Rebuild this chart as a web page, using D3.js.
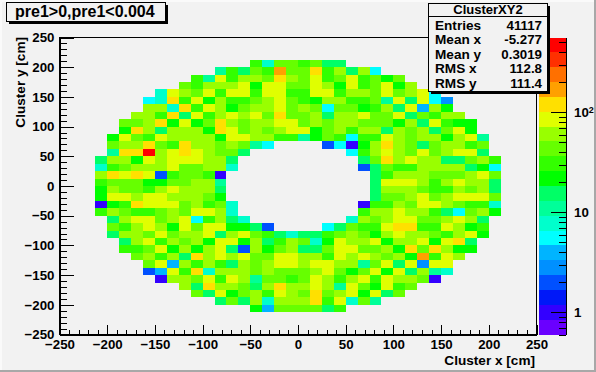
<!DOCTYPE html>
<html>
<head>
<meta charset="utf-8">
<script src="https://cdn.jsdelivr.net/npm/d3@7"></script>
<style>
html, body { margin: 0; padding: 0; background: #f2f2f2; }
svg { display: block; }
text { font-family: "Liberation Sans", Arial, sans-serif; font-weight: bold; fill: #000; }
</style>
</head>
<body>
<div id="chart"></div>
<script>
// Histogram bins: 40 x 40 over -250..250, rows listed from the top down
const binEdges = d3.range(-250, 250, 12.5);
const binSize = 12.5;

// first row drawn and first filled bin of each row
const firstRow = 3;
const rowStart = [16,13,11,10,8,7,7,6,5,5,4,4,4,3,3,3,3,3,3,3,3,4,4,4,5,5,6,7,7,8,10,11,13,16];

const z = 0; // empty bin in the hole
const binCounts = [
  [31,8,43,43,31,43,16,16],
  [11,31,16,43,31,170,43,43,121,31,61,16,61,6],
  [31,11,86,31,61,61,43,121,61,43,86,31,43,86,31,43,22,43],
  [43,31,61,61,61,86,22,86,86,43,43,86,61,22,86,31,43,86,22,61],
  [8,86,61,43,86,31,86,86,31,86,86,31,31,86,86,31,61,61,43,86,43,61,86,6],
  [6,8,121,31,86,22,61,31,31,43,61,86,43,31,22,61,61,31,31,43,11,86,16,86,6,3],
  [61,61,8,121,31,86,61,22,43,61,61,86,43,61,43,6,43,43,22,31,61,16,86,4,61,22],
  [61,61,31,121,16,86,31,61,86,61,86,43,121,43,43,61,16,61,61,86,43,43,86,16,43,31,61,61],
  [43,43,61,121,22,86,22,43,121,61,43,61,61,86,86,43,61,43,61,61,43,43,43,22,61,16,86,31,22,22],
  [22,121,61,16,61,61,61,22,121,86,43,61,43,61,86,86,22,43,61,31,61,61,16,61,43,61,16,43,86,22],
  [22,86,43,31,86,61,61,61,61,22,86,86,61,61,31,31,11,22,43,31,6,31,31,86,61,43,61,61,22,61,86,11],
  [43,61,61,121,43,31,121,61,61,43,61,43,11,6,z,z,z,z,2,6,1,22,61,121,61,43,16,43,61,61,31,43],
  [11,121,121,473,61,86,121,86,61,43,43,16,z,z,z,z,z,z,z,z,6,31,61,86,61,43,86,43,61,86,86,16],
  [16,61,61,22,86,61,86,86,86,61,61,16,z,z,z,z,z,z,z,z,z,z,16,43,121,61,86,61,61,16,16,43,61,31],
  [8,31,43,61,61,61,86,43,43,61,61,8,z,z,z,z,z,z,z,z,z,z,2,16,43,31,31,61,61,61,61,16,22,6],
  [61,121,86,121,86,2,31,43,43,31,1,z,z,z,z,z,z,z,z,z,z,z,z,16,31,61,61,61,43,43,43,61,86,43],
  [31,43,43,43,22,22,43,43,61,61,11,z,z,z,z,z,z,z,z,z,z,z,z,16,86,86,86,61,31,61,86,61,61,16],
  [22,61,43,43,31,61,86,61,61,61,16,z,z,z,z,z,z,z,z,z,z,z,z,16,61,61,61,43,31,31,61,43,61,16],
  [22,86,86,61,86,86,61,61,61,43,22,z,z,z,z,z,z,z,z,z,z,z,z,16,43,43,61,86,43,61,86,86,86,43],
  [1,22,31,121,86,86,86,43,61,31,43,8,z,z,z,z,z,z,z,z,z,z,1,31,31,61,43,86,86,61,43,31,31,8],
  [31,61,43,31,31,43,61,43,86,86,61,8,z,z,z,z,z,z,z,z,z,z,31,61,61,86,61,61,31,16,6,43,61,22],
  [16,61,86,86,43,61,86,6,31,61,16,8,z,z,z,z,z,z,z,z,8,61,43,61,86,86,43,43,61,86,61,16],
  [43,31,61,86,61,22,86,43,86,86,22,22,16,2,z,z,z,z,6,16,43,31,31,86,121,121,31,31,86,61,22,31],
  [16,61,61,43,86,43,61,61,86,16,61,86,43,31,16,8,16,16,31,43,61,43,22,61,86,61,61,43,31,61,86,22],
  [16,61,86,31,61,43,61,22,86,86,22,61,16,31,61,43,8,22,86,61,61,86,22,61,61,86,22,86,121,16],
  [31,31,43,86,22,61,22,61,86,16,2,61,22,43,61,16,16,43,86,86,43,43,61,22,121,43,121,61,22,22],
  [43,61,31,61,16,121,61,86,61,86,43,43,86,86,61,61,31,86,61,86,61,43,61,22,170,31,86,61],
  [43,86,4,61,31,61,31,16,61,43,61,86,86,61,86,86,61,61,11,43,86,16,86,3,86,86],
  [2,4,86,31,121,8,61,61,61,43,61,43,43,43,61,86,43,22,43,86,22,86,16,61,11,8],
  [1,61,61,43,86,31,86,61,11,43,43,31,43,86,61,31,61,86,31,86,61,61,43,1],
  [61,16,121,61,61,43,16,61,121,61,61,86,61,11,86,43,22,86,31,43],
  [43,16,86,22,43,61,31,86,61,43,121,43,61,86,22,86,16,43],
  [16,43,16,61,8,61,61,61,121,31,86,8,43,11],
  [22,4,43,43,43,43,16,31]
];

// Axis ticks
const xyMajor = [-250, -200, -150, -100, -50, 0, 50, 100, 150, 200, 250];
const xyMinor = d3.range(-250, 251, 10);
const zMajor = [1, 10, 100];
const zMinor = [0.6, 0.7, 0.8, 0.9, 2, 3, 4, 5, 6, 7, 8, 9, 20, 30, 40, 50, 60, 70, 80, 90, 200, 300, 400, 500];
const zDomain = [0.6, 560];

// Stat box
const statTitle = "ClusterXY2";
const statNames = ["Entries", "Mean x", "Mean y", "RMS x", "RMS y"];
const statValues = ["41117", "-5.277", "0.3019", "112.8", "111.4"];

// Palette, bottom of the colour bar to the top
const palette = ["#6a00ff", "#3300ff", "#0018f8", "#0050ff", "#0090ff", "#00b4ff", "#00ffff", "#00ffcc", "#00ff99", "#00ff66",
                 "#00ff00", "#33ff00", "#66ff00", "#99ff00", "#e0ff00", "#ffe000", "#ffa000", "#ff7000", "#ff3000", "#ff0000"];

const width = 596, height = 372;
const svg = d3.select("#chart").append("svg").attr("width", width).attr("height", height);

// canvas border
svg.append("rect").attr("width", width).attr("height", height).attr("fill", "#f2f2f2");
svg.append("rect").attr("x", 0).attr("y", height - 2).attr("width", width).attr("height", 2).attr("fill", "#a8a8a8");
svg.append("rect").attr("x", width - 2).attr("y", 0).attr("width", 2).attr("height", height).attr("fill", "#a8a8a8");
svg.append("rect").attr("x", 0).attr("y", 0).attr("width", 2).attr("height", height - 2).attr("fill", "#fafafa");
svg.append("rect").attr("x", 0).attr("y", 0).attr("width", width - 2).attr("height", 2).attr("fill", "#fafafa");

const xScale = d3.scaleLinear().domain([-250, 250]).range([59.5, 536.5]);
const yScale = d3.scaleLinear().domain([-250, 250]).range([334.5, 37.5]);
const zScale = d3.scaleLog().domain(zDomain).range([334.5, 37.5]);
const colorScale = d3.scaleQuantize()
    .domain(zDomain.map(Math.log10))
    .range(palette);

// Flatten rows to cells, skipping the empty bins
const cells = [];
binCounts.forEach((row, r) => {
    row.forEach((count, k) => {
        if (count > 0) {
            const i = rowStart[r] + k;
            const j = firstRow + r;
            cells.push({ x0: binEdges[i], y1: 250 - j * binSize, count: count });
        }
    });
});

svg.append("g").selectAll("rect")
    .data(cells)
    .enter()
    .append("rect")
    .attr("x", d => xScale(d.x0))
    .attr("y", d => yScale(d.y1))
    .attr("width", d => xScale(d.x0 + binSize) - xScale(d.x0))
    .attr("height", d => yScale(d.y1 - binSize) - yScale(d.y1))
    .attr("fill", d => colorScale(Math.log10(d.count)))
    .attr("shape-rendering", "crispEdges");

// Colour bar
const barX = 539, barW = 27;
const logStep = (Math.log10(zDomain[1]) - Math.log10(zDomain[0])) / palette.length;
svg.append("g").selectAll("rect")
    .data(palette)
    .enter()
    .append("rect")
    .attr("x", barX)
    .attr("width", barW)
    .attr("y", (d, k) => zScale(Math.pow(10, Math.log10(zDomain[0]) + (k + 1) * logStep)))
    .attr("height", (d, k) => zScale(Math.pow(10, Math.log10(zDomain[0]) + k * logStep)) - zScale(Math.pow(10, Math.log10(zDomain[0]) + (k + 1) * logStep)))
    .attr("fill", d => d)
    .attr("shape-rendering", "crispEdges");

// Frame
svg.append("rect")
    .attr("x", xScale(-250)).attr("y", yScale(250))
    .attr("width", xScale(250) - xScale(-250)).attr("height", yScale(-250) - yScale(250))
    .attr("fill", "none").attr("stroke", "#000").attr("stroke-width", 1)
    .attr("shape-rendering", "crispEdges");

function styleAxis(g, size) {
    g.selectAll("text").style("font-size", size + "px").attr("fill", "#000");
    g.selectAll("line").attr("stroke", "#000").attr("shape-rendering", "crispEdges");
    g.selectAll(".domain").attr("stroke", "#000").attr("shape-rendering", "crispEdges");
}

// x axis, ticks point into the frame
svg.append("g").attr("transform", `translate(0,${yScale(-250)})`)
    .call(d3.axisBottom(xScale).tickValues(xyMinor).tickSize(-4.6).tickFormat(""))
    .call(g => g.select(".domain").remove())
    .call(styleAxis, 13.3);
svg.append("g").attr("transform", `translate(0,${yScale(-250)})`)
    .call(d3.axisBottom(xScale).tickValues(xyMajor).tickSizeInner(-9.3).tickSizeOuter(0).tickPadding(5))
    .call(styleAxis, 13.3);

// y axis
svg.append("g").attr("transform", `translate(${xScale(-250)},0)`)
    .call(d3.axisLeft(yScale).tickValues(xyMinor).tickSize(-7.3).tickFormat(""))
    .call(g => g.select(".domain").remove())
    .call(styleAxis, 13.3);
svg.append("g").attr("transform", `translate(${xScale(-250)},0)`)
    .call(d3.axisLeft(yScale).tickValues(xyMajor).tickSizeInner(-14.6).tickSizeOuter(0).tickPadding(5))
    .call(styleAxis, 13.3);

// colour bar axis
svg.append("g").attr("transform", `translate(${barX + barW},0)`)
    .call(d3.axisRight(zScale).tickValues(zMinor).tickSize(-7.3).tickFormat(""))
    .call(g => g.select(".domain").remove())
    .call(styleAxis, 13.3);
const zAxis = svg.append("g").attr("transform", `translate(${barX + barW},0)`)
    .call(d3.axisRight(zScale).tickValues(zMajor).tickSizeInner(-14.6).tickSizeOuter(0).tickPadding(8).tickFormat(d => d))
    .call(styleAxis, 13.3);
zAxis.selectAll("text").filter(d => d === 100)
    .text("10")
    .append("tspan")
    .attr("dy", "-0.45em")
    .style("font-size", "9px")
    .text("2");

// Axis titles
svg.append("text")
    .attr("x", 535).attr("y", 365)
    .attr("text-anchor", "end")
    .style("font-size", "13.6px")
    .text("Cluster x [cm]");
svg.append("text")
    .attr("transform", "translate(25,37) rotate(-90)")
    .attr("text-anchor", "end")
    .style("font-size", "13.6px")
    .text("Cluster y [cm]");

// Boxes with a hard shadow, as ROOT draws them
function shadowBox(x, y, w, h) {
    svg.append("rect").attr("x", x + 2).attr("y", y + 2).attr("width", w).attr("height", h)
        .attr("fill", "#000").attr("shape-rendering", "crispEdges");
    svg.append("rect").attr("x", x).attr("y", y).attr("width", w).attr("height", h)
        .attr("fill", "#f2f2f2").attr("stroke", "#000").attr("shape-rendering", "crispEdges");
}

shadowBox(6.5, 2.5, 159, 19);
svg.append("text")
    .attr("x", 15).attr("y", 17)
    .style("font-size", "16px")
    .text("pre1>0,pre1<0.004");

shadowBox(428.5, 3.5, 119, 88);
svg.append("line")
    .attr("x1", 428.5).attr("x2", 547.5).attr("y1", 16.5).attr("y2", 16.5)
    .attr("stroke", "#000").attr("shape-rendering", "crispEdges");
svg.append("text")
    .attr("x", 488).attr("y", 14)
    .attr("text-anchor", "middle")
    .style("font-size", "13px")
    .text(statTitle);
const statY = d3.scalePoint().domain(statNames).range([29.5, 88]);
svg.append("g").selectAll("text")
    .data(statNames)
    .enter()
    .append("text")
    .attr("x", 435)
    .attr("y", d => statY(d))
    .style("font-size", "13.6px")
    .text(d => d);
svg.append("g").selectAll("text")
    .data(statValues)
    .enter()
    .append("text")
    .attr("x", 542)
    .attr("y", (d, k) => statY(statNames[k]))
    .attr("text-anchor", "end")
    .style("font-size", "13.3px")
    .text(d => d);
</script>
</body>
</html>
